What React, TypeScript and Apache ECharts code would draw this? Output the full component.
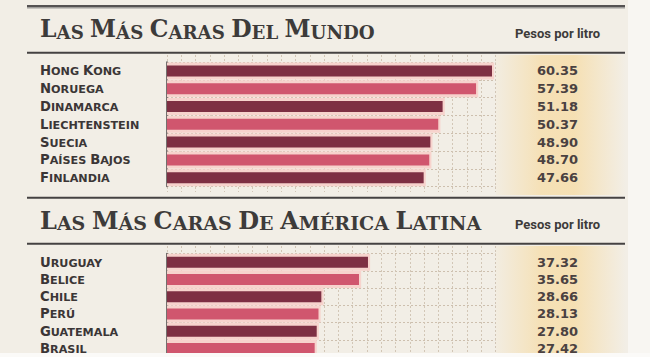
import React, { useEffect, useRef } from 'react';
import * as echarts from 'echarts';

const worldTitle = 'Las más caras del mundo';
const latamTitle = 'Las más caras de América Latina';
const unitLabel = 'Pesos por litro';

const worldCountries = ['Hong Kong', 'Noruega', 'Dinamarca', 'Liechtenstein', 'Suecia', 'Países Bajos', 'Finlandia'];
const worldPrices = [60.35, 57.39, 51.18, 50.37, 48.9, 48.7, 47.66];

const latamCountries = ['Uruguay', 'Belice', 'Chile', 'Perú', 'Guatemala', 'Brasil'];
const latamPrices = [37.32, 35.65, 28.66, 28.13, 27.8, 27.42];

const DARK = '#7e2f43';
const PINK = '#d0566e';
const BAND = '#f7d3cd';
const TEXT = '#3b3636';
const LABEL_FONT = 'DejaVu Sans';
const TITLE_FONT = 'DejaVu Serif';

function smallCaps(s: string): string {
  return s
    .split(' ')
    .map((w) => (w ? `{c|${w[0].toUpperCase()}}{s|${w.slice(1).toUpperCase()}}` : ''))
    .join(' ');
}

const labelRich = {
  c: { fontFamily: LABEL_FONT, fontWeight: 'bold', fontSize: 13.2, lineHeight: 13, color: TEXT, verticalAlign: 'bottom' },
  s: { fontFamily: LABEL_FONT, fontWeight: 'bold', fontSize: 11.2, lineHeight: 11, color: TEXT, verticalAlign: 'bottom' },
};

const titleRichWorld = {
  c: { fontFamily: TITLE_FONT, fontWeight: 'bold', fontSize: 23.5, lineHeight: 23, fill: '#3d3b3a', verticalAlign: 'bottom' },
  s: { fontFamily: TITLE_FONT, fontWeight: 'bold', fontSize: 18.2, lineHeight: 18, fill: '#3d3b3a', verticalAlign: 'bottom' },
};
const titleRichLatam = {
  c: { fontFamily: TITLE_FONT, fontWeight: 'bold', fontSize: 24, lineHeight: 23, fill: '#3d3b3a', verticalAlign: 'bottom' },
  s: { fontFamily: TITLE_FONT, fontWeight: 'bold', fontSize: 19, lineHeight: 18, fill: '#3d3b3a', verticalAlign: 'bottom' },
};

const X_MAX = 61;
const GRID_LEFT = 167;
const GRID_RIGHT = 650 - 495.5;

function catAxis(gridIndex: number, data: string[]) {
  return {
    type: 'category',
    gridIndex,
    data,
    inverse: true,
    axisLine: { show: true, lineStyle: { color: '#4a4646', width: 1.5 } },
    axisTick: { show: false },
    splitLine: { show: true, lineStyle: { color: '#cdbfae', type: [2, 2], width: 1 } },
    axisLabel: {
      align: 'left',
      margin: GRID_LEFT - 40,
      fontFamily: LABEL_FONT,
      fontWeight: 'bold',
      fontSize: 11.2,
      color: TEXT,
      formatter: (v: string) => smallCaps(v),
      rich: labelRich,
    },
  };
}

function valAxis(gridIndex: number, prices: number[]) {
  return {
    type: 'category',
    gridIndex,
    position: 'right',
    inverse: true,
    data: prices.map((p) => p.toFixed(2)),
    axisLine: { show: false },
    axisTick: { show: false },
    splitLine: { show: false },
    axisLabel: {
      align: 'center',
      margin: 62,
      fontFamily: LABEL_FONT,
      fontWeight: 'bold',
      fontSize: 13,
      color: '#4a4141',
    },
  };
}

function yellowFill() {
  return new echarts.graphic.LinearGradient(0, 0, 1, 0, [
    { offset: 0, color: 'rgba(246,222,172,0.1)' },
    { offset: 0.35, color: 'rgba(246,221,170,0.8)' },
    { offset: 0.6, color: 'rgba(246,221,170,0.85)' },
    { offset: 1, color: 'rgba(246,222,172,0)' },
  ]);
}

export default function App() {
  const ref = useRef<HTMLDivElement>(null);

  useEffect(() => {
    document.body.style.margin = '0';
    if (!ref.current) return;
    const chart = echarts.init(ref.current, undefined, { renderer: 'svg' });

    const option = {
      animation: false,
      grid: [
        { left: GRID_LEFT, right: GRID_RIGHT, top: 62, height: 124.6 },
        { left: GRID_LEFT, right: GRID_RIGHT, top: 253.5, height: 106.2 },
        { left: GRID_LEFT, right: GRID_RIGHT, top: 55, height: 137 },
        { left: GRID_LEFT, right: GRID_RIGHT, top: 246, height: 111 },
      ],
      xAxis: [
        { type: 'value', gridIndex: 0, min: 0, max: X_MAX, show: false },
        { type: 'value', gridIndex: 1, min: 0, max: X_MAX, show: false },
        ...[2, 3].map((g) => ({
          type: 'value',
          gridIndex: g,
          min: 0,
          max: 23,
          interval: 1,
          axisLine: { show: false },
          axisTick: { show: false },
          axisLabel: { show: false },
          splitLine: { show: true, lineStyle: { color: '#d2c6b6', type: [2, 2], width: 1 } },
        })),
      ],
      yAxis: [
        catAxis(0, worldCountries),
        valAxis(0, worldPrices),
        catAxis(1, latamCountries),
        valAxis(1, latamPrices),
        { type: 'value', gridIndex: 2, show: false, min: 0, max: 1 },
        { type: 'value', gridIndex: 3, show: false, min: 0, max: 1 },
      ],
      series: [
        {
          type: 'bar',
          xAxisIndex: 0,
          yAxisIndex: 1,
          data: worldPrices.map((v) => v + 0.4),
          barWidth: 17,
          itemStyle: { color: BAND },
          silent: true,
          z: 1,
        },
        {
          type: 'bar',
          xAxisIndex: 0,
          yAxisIndex: 0,
          data: worldPrices,
          barWidth: 11,
          itemStyle: { color: (p: any) => (p.dataIndex % 2 === 0 ? DARK : PINK) },
          z: 2,
        },
        {
          type: 'bar',
          xAxisIndex: 1,
          yAxisIndex: 3,
          data: latamPrices.map((v) => v + 0.4),
          barWidth: 17,
          itemStyle: { color: BAND },
          silent: true,
          z: 1,
        },
        {
          type: 'bar',
          xAxisIndex: 1,
          yAxisIndex: 2,
          data: latamPrices,
          barWidth: 11,
          itemStyle: { color: (p: any) => (p.dataIndex % 2 === 0 ? DARK : PINK) },
          z: 2,
        },
      ],
      graphic: [
        { type: 'rect', z: -2, silent: true, shape: { x: 628, y: 0, width: 22, height: 357 }, style: { fill: '#f8f6f2' } },
        { type: 'rect', z: -1, silent: true, shape: { x: 496, y: 55, width: 130, height: 140 }, style: { fill: yellowFill() } },
        { type: 'rect', z: -1, silent: true, shape: { x: 496, y: 246, width: 130, height: 107 }, style: { fill: yellowFill() } },
        { type: 'rect', silent: true, shape: { x: 27, y: 5, width: 598, height: 2.4 }, style: { fill: '#555252' } },
        { type: 'rect', silent: true, shape: { x: 27, y: 7.4, width: 598, height: 1 }, style: { fill: '#9c9a98' } },
        { type: 'rect', silent: true, shape: { x: 27, y: 51.7, width: 598, height: 2 }, style: { fill: '#454242' } },
        { type: 'rect', silent: true, shape: { x: 27, y: 196.7, width: 598, height: 2 }, style: { fill: '#454242' } },
        { type: 'rect', silent: true, shape: { x: 27, y: 242.7, width: 598, height: 2 }, style: { fill: '#454242' } },
        {
          type: 'text',
          x: 40,
          y: 29.5,
          style: {
            text: smallCaps(worldTitle),
            rich: titleRichWorld,
            fontFamily: TITLE_FONT,
            fontWeight: 'bold',
            fontSize: 18.2,
            fill: '#3d3b3a',
            verticalAlign: 'middle',
          },
        },
        {
          type: 'text',
          x: 40,
          y: 220.5,
          style: {
            text: smallCaps(latamTitle),
            rich: titleRichLatam,
            fontFamily: TITLE_FONT,
            fontWeight: 'bold',
            fontSize: 19,
            fill: '#3d3b3a',
            verticalAlign: 'middle',
          },
        },
        {
          type: 'text',
          x: 515,
          y: 33,
          style: { text: unitLabel, fontFamily: 'Roboto', fontWeight: 'bold', fontSize: 13, fill: '#3d3b3a', verticalAlign: 'middle' },
        },
        {
          type: 'text',
          x: 515,
          y: 224,
          style: { text: unitLabel, fontFamily: 'Roboto', fontWeight: 'bold', fontSize: 13, fill: '#3d3b3a', verticalAlign: 'middle' },
        },
        { type: 'rect', z: 100, silent: true, shape: { x: 0, y: 353, width: 650, height: 4 }, style: { fill: '#fbfaf8' } },
      ],
    };

    chart.setOption(option as any);
    return () => chart.dispose();
  }, []);

  return (
    <div
      ref={ref}
      style={{ position: 'fixed', left: 0, top: 0, width: 650, height: 357, background: '#f2eee6' }}
    />
  );
}
